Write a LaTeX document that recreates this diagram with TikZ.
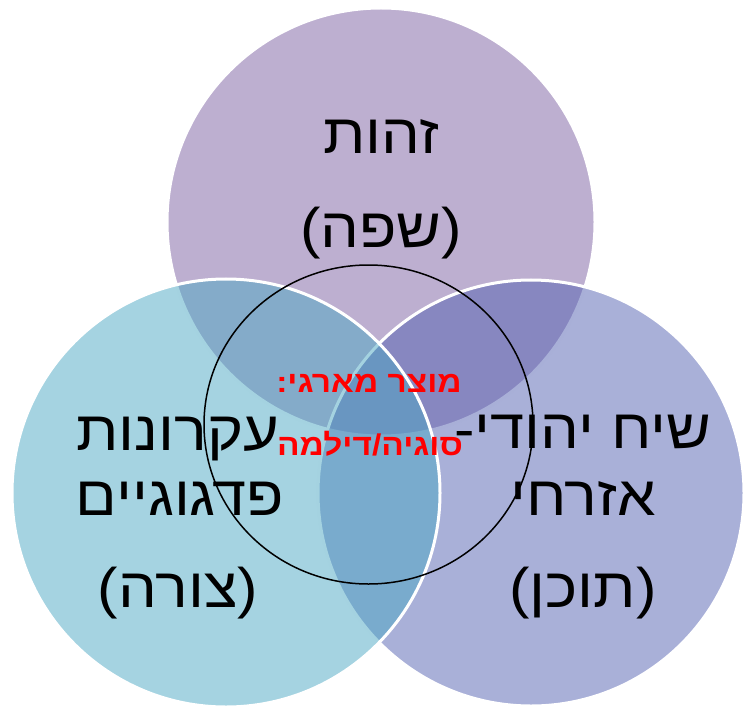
\documentclass[tikz,border=0pt]{standalone}
\usepackage{fontspec}
\setmainfont{Liberation Sans}
\newfontfamily\hebfont[Script=Hebrew, FakeStretch=1.1]{Liberation Sans}
\newfontfamily\hebcore[Script=Hebrew, FakeStretch=1.12]{Liberation Sans}
\TeXXeTstate=1
\usetikzlibrary{positioning,shapes.geometric}
\definecolor{setpurple}{RGB}{123,95,161}
\definecolor{setaqua}{RGB}{75,167,195}
\definecolor{setblue}{RGB}{83,97,177}
\tikzset{
  vn set/.style={circle, draw=white, line width=3bp, fill opacity=0.5, minimum size=428bp, inner sep=0pt},
  vn label/.style={font=\hebfont\fontsize{56}{66}\selectfont, anchor=base, inner sep=0pt},
  vn core/.style={font=\hebcore\bfseries\fontsize{30}{36}\selectfont, text=red, anchor=base, inner sep=0pt},
}

\begin{document}
\begin{tikzpicture}[x=1bp, y=-1bp]
  \useasboundingbox (0,0) rectangle (743,709);
  % the three sets (drawn top, right, left)
  \node[vn set, fill=setpurple] (lang) at (381,222) {};
  \node[vn set, fill=setblue, minimum size=426bp] (content) at (531,493) {};
  \node[vn set, fill=setaqua] (form) at (226,493) {};
  % the product in the middle
  \node[ellipse, draw=black, line width=1.5bp, minimum width=329bp, minimum height=319bp, inner sep=0pt] (product) at (368.5,424.5) {};
  % labels
  \node[vn label] (lang1) at (381,153) {\beginR זהות\endR};
  \node[vn label] (lang2) at (381,247) {\beginR (שפה)\endR};
  \node[vn label] (form1) at (178,450) {\beginR עקרונות\endR};
  \node[vn label] (form2) at (180,515) {\beginR פדגוגיים\endR};
  \node[vn label] (form3) at (178,607) {\beginR (צורה)\endR};
  \node[vn label] (content1) at (583,448) {\beginR שיח יהודי-\endR};
  \node[vn label] (content2) at (583,515) {\beginR אזרחי\endR};
  \node[vn label] (content3) at (583,607) {\beginR (תוכן)\endR};
  \node[vn core] (core1) at (369,392) {\beginR מוצר מארגי:\endR};
  \node[vn core] (core2) at (370,455) {\beginR סוגיה/דילמה\endR};
\end{tikzpicture}
\end{document}
